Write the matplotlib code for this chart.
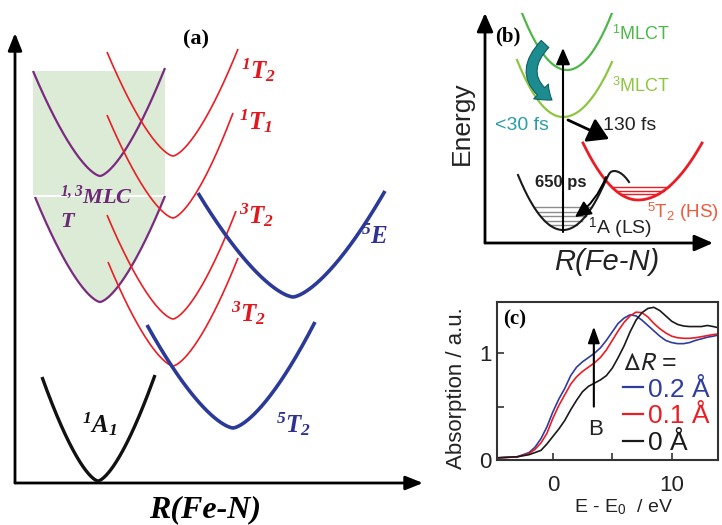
import numpy as np
import matplotlib
matplotlib.use("Agg")
import matplotlib.pyplot as plt
from matplotlib.patches import FancyArrowPatch
from matplotlib.font_manager import FontProperties

plt.rcParams['mathtext.fontset'] = 'custom'
plt.rcParams['mathtext.rm'] = 'Liberation Serif:bold:italic'
plt.rcParams['mathtext.it'] = 'Liberation Serif:bold:italic'
plt.rcParams['mathtext.bf'] = 'Liberation Serif:bold'
plt.rcParams['mathtext.sf'] = 'Liberation Sans'
plt.rcParams['font.family'] = ['Liberation Sans', 'DejaVu Sans']

# ---------------- panel (a): potential curves (vertex and both end points)
a_vertex_R = [83, 218, 278, 158, 158, 158, 158, 85, 85]
a_vertex_E = [2, 55, 186, 117, 164, 265, 327, 181, 307]
a_left_R = [27, 132, 183, 93, 92, 92, 92, 20, 18]
a_left_E = [106, 158, 290, 221, 268, 368, 431, 286, 412]
a_right_R = [140, 300, 370, 223, 221, 218, 223, 150, 150]
a_right_E = [108, 161, 292, 225, 272, 370, 434, 287, 415]
a_kind = ['gs', 'hs', 'hs', 'lf', 'lf', 'lf', 'lf', 'ct', 'ct']

a_labels = [r'$^{1}T_{2}$', r'$^{1}T_{1}$', r'$^{3}T_{2}$', r'$^{5}E$',
            r'$^{3}T_{2}$', r'$^{5}T_{2}$', r'$^{1}A_{1}$']
a_label_R = [226, 224, 224, 346, 216, 261, 67]
a_label_E = [413, 362, 268, 246, 170, 59, 59]
a_label_kind = ['lf', 'lf', 'lf', 'hs', 'lf', 'hs', 'gs']

# ---------------- panel (b): schematic potentials
b_vertex_R = [82, 78, 153]
b_vertex_E = [173, 126, 43]
b_left_R = [37, 32, 98]
b_left_E = [230, 183, 100]
b_right_R = [127, 127, 217]
b_right_E = [230, 181, 100]
b_colors = ['#4db848', '#8dc63f', '#ec1c24']
gs_vertex = (78, 13)
gs_left = (33, 68)
gs_crest = (129, 72)
gs_end = (144, 61)
gs_levels = [36, 31.5, 27, 22.5, 18]
hs_levels = [56, 52.5, 49]

# ---------------- panel (c): XANES spectra
c_energy = [-4.7, -3, -2, -1.5, -1, -0.5, 0, 0.5, 1, 1.5, 2, 2.5, 3, 3.5, 4,
            4.5, 5, 5.5, 6, 6.5, 7, 7.5, 8, 8.5, 9, 9.5, 10, 10.5, 11, 11.5,
            12, 12.5, 13, 13.5, 13.9]
c_abs_02 = [0.02, 0.03, 0.07, 0.12, 0.20, 0.31, 0.45, 0.57, 0.67, 0.79, 0.87,
            0.92, 0.96, 1.00, 1.05, 1.12, 1.20, 1.28, 1.33, 1.36, 1.35, 1.31,
            1.26, 1.21, 1.16, 1.12, 1.10, 1.09, 1.09, 1.10, 1.12, 1.135, 1.15,
            1.16, 1.17]
c_abs_01 = [0.02, 0.03, 0.06, 0.10, 0.16, 0.25, 0.39, 0.51, 0.61, 0.71, 0.78,
            0.83, 0.87, 0.91, 0.96, 1.03, 1.12, 1.21, 1.29, 1.35, 1.385, 1.38,
            1.34, 1.28, 1.23, 1.19, 1.16, 1.145, 1.14, 1.14, 1.145, 1.155,
            1.165, 1.175, 1.18]
c_abs_00 = [0.02, 0.03, 0.05, 0.07, 0.09, 0.15, 0.22, 0.29, 0.37, 0.47, 0.56,
            0.64, 0.69, 0.72, 0.75, 0.79, 0.86, 0.96, 1.07, 1.20, 1.31, 1.38,
            1.42, 1.43, 1.40, 1.35, 1.30, 1.27, 1.255, 1.25, 1.25, 1.25, 1.26,
            1.25, 1.24]
c_labels = ['0.2 Å', '0.1 Å', '0 Å']
c_colors = ['#2e3d9f', '#ec1c24', '#1a1a1a']

W, H = 722, 525
fig = plt.figure(figsize=(W / 100, H / 100), dpi=100)


def well(Rv, Ev, Rl, El, Rr, Er, p, n=200):
    R = np.linspace(Rl, Rr, n)
    E = np.where(R < Rv,
                 Ev + (El - Ev) * (np.abs(R - Rv) / abs(Rl - Rv)) ** p,
                 Ev + (Er - Ev) * (np.abs(R - Rv) / abs(Rr - Rv)) ** p)
    return R, E


# ======================= panel (a)
ax_a = fig.add_axes([15 / W, 1 - 483 / H, 408 / W, 450 / H])
ax_a.set_xlim(0, 408)
ax_a.set_ylim(0, 450)
ax_a.axis('off')

green = '#dcebd5'
styles = {'gs': ('#111111', 2.4), 'hs': ('#2b3a98', 2.6),
          'lf': ('#ec1c24', 1.2), 'ct': ('#7a2a80', 1.6)}
label_colors = {'gs': '#111111', 'hs': '#2e3192', 'lf': '#e3161d', 'ct': '#6c2776'}

# shaded charge-transfer manifold
ax_a.fill_between([a_left_R[8], a_right_R[8]], a_right_E[7] + 1.5, a_left_E[8],
                  color=green, lw=0, zorder=1)
Rl, El = well(a_vertex_R[7], a_vertex_E[7], a_left_R[7], a_left_E[7],
              a_right_R[7], a_right_E[7], 1.5)
ax_a.fill_between(Rl, El, a_right_E[7] - 0.5, where=El < a_right_E[7],
                  color=green, lw=0, zorder=1)

order = {'ct': 2, 'lf': 3, 'hs': 4, 'gs': 5}
for i in range(len(a_vertex_R)):
    R, E = well(a_vertex_R[i], a_vertex_E[i], a_left_R[i], a_left_E[i],
                a_right_R[i], a_right_E[i], 1.5)
    c, lw = styles[a_kind[i]]
    ax_a.plot(R, E, color=c, lw=lw, zorder=order[a_kind[i]],
              solid_capstyle='butt')

for txt, r, e, k in zip(a_labels, a_label_R, a_label_E, a_label_kind):
    ax_a.text(r, e, txt, color=label_colors[k], fontsize=18, ha='left',
              va='center', family='Liberation Serif', weight='bold',
              style='italic', zorder=6)

ax_a.text(45, 286, r'$^{1,3}$MLC', color=label_colors['ct'], fontsize=16,
          family='Liberation Serif', weight='bold', style='italic',
          ha='left', va='center', zorder=6)
ax_a.text(45, 261, 'T', color=label_colors['ct'], fontsize=16,
          family='Liberation Serif', weight='bold', style='italic',
          ha='left', va='center', zorder=6)
ax_a.text(181, 444, '(a)', fontsize=16, family='Liberation Serif',
          weight='bold', ha='center', va='center')
ax_a.text(190, -27, 'R(Fe-N)', fontsize=23, family='Liberation Serif',
          weight='bold', style='italic', ha='center', va='center')

arr = dict(arrowstyle='-|>,head_length=0.75,head_width=0.3', lw=2.0,
           color='black', shrinkA=0, shrinkB=0, mutation_scale=14)
ax_a.annotate('', xy=(0, 1), xytext=(0, 0), xycoords='axes fraction',
              arrowprops=arr)
ax_a.annotate('', xy=(1, 0), xytext=(0, 0), xycoords='axes fraction',
              arrowprops=arr)

# ======================= panel (b)
ax_b = fig.add_axes([485 / W, 1 - 243 / H, 228 / W, 230 / H])
ax_b.set_xlim(0, 228)
ax_b.set_ylim(0, 230)
ax_b.axis('off')

for i in range(3):
    R, E = well(b_vertex_R[i], b_vertex_E[i], b_left_R[i], b_left_E[i],
                b_right_R[i], b_right_E[i], 2.0)
    ax_b.plot(R, E, color=b_colors[i], lw=1.6 if i < 2 else 2.0, zorder=3)

# low-spin well running over the barrier into the high-spin well
Rg = np.linspace(gs_left[0], gs_end[0], 300)
kw = (gs_left[1] - gs_vertex[1]) / (gs_left[0] - gs_vertex[0]) ** 2
kb = (gs_crest[1] - gs_end[1]) / (gs_end[0] - gs_crest[0]) ** 2
E_well = gs_vertex[1] + kw * (Rg - gs_vertex[0]) ** 2
E_bar = np.where(Rg > 100, gs_crest[1] - kb * (Rg - gs_crest[0]) ** 2, 1e4)
s = 2.5
Eg = -s * np.logaddexp(-E_well / s, -E_bar / s)
ax_b.plot(Rg, Eg, color='#1a1a1a', lw=1.5, zorder=3)

for lv in gs_levels:
    half = np.sqrt((lv - gs_vertex[1]) / kw)
    ax_b.plot([gs_vertex[0] - half, gs_vertex[0] + half], [lv, lv],
              color='#8c8c8c', lw=1.0, zorder=2)
kl = (b_left_E[2] - b_vertex_E[2]) / (b_left_R[2] - b_vertex_R[2]) ** 2
kr = (b_right_E[2] - b_vertex_E[2]) / (b_right_R[2] - b_vertex_R[2]) ** 2
for lv in hs_levels:
    ax_b.plot([b_vertex_R[2] - np.sqrt((lv - b_vertex_E[2]) / kl),
               b_vertex_R[2] + np.sqrt((lv - b_vertex_E[2]) / kr)], [lv, lv],
              color='#ec1c24', lw=1.0, zorder=2)

barr = dict(arrowstyle='-|>,head_length=0.8,head_width=0.35', lw=2.0,
            color='black', shrinkA=0, shrinkB=0, mutation_scale=14)
ax_b.annotate('', xy=(0, 1), xytext=(0, 0), xycoords='axes fraction',
              arrowprops=barr)
ax_b.annotate('', xy=(1, 0), xytext=(0, 0), xycoords='axes fraction',
              arrowprops=barr)

# excitation
ax_b.add_patch(FancyArrowPatch((78, 11), (78, 195), arrowstyle='-|>,head_length=0.7,head_width=0.3',
                               mutation_scale=14, lw=1.5, color='black',
                               shrinkA=0, shrinkB=0, zorder=5))
# ISC 1MLCT -> 3MLCT
ax_b.add_patch(FancyArrowPatch((60, 199), (67, 143),
                               connectionstyle='arc3,rad=0.6',
                               arrowstyle='simple,head_width=1.5,head_length=1.0,tail_width=0.75',
                               mutation_scale=10, fc='#1c8c90', ec='#0f5f63',
                               lw=0.8, shrinkA=0, shrinkB=0, zorder=6))
# 3MLCT -> 5T2
ax_b.add_patch(FancyArrowPatch((83, 123), (124, 104),
                               arrowstyle='-|>,head_length=0.9,head_width=0.55',
                               mutation_scale=14, lw=2.0, color='black',
                               shrinkA=0, shrinkB=0, zorder=6))
# HS -> LS relaxation
ax_b.add_patch(FancyArrowPatch((121, 66), (90, 26),
                               connectionstyle='arc3,rad=-0.15',
                               arrowstyle='-|>,head_length=0.8,head_width=0.4',
                               mutation_scale=12, lw=1.4, color='black',
                               shrinkA=0, shrinkB=0, zorder=6))

tc = '#222222'
ax_b.text(23, 207, '(b)', fontsize=15, family='Liberation Serif',
          weight='bold', ha='center', va='center')
ax_b.text(127, 209, r'$^{\mathsf{1}}$MLCT', color='#4db848', fontsize=13,
          ha='left', va='center')
ax_b.text(127, 157, r'$^{\mathsf{3}}$MLCT', color='#8dc63f', fontsize=13,
          ha='left', va='center')
ax_b.text(37, 118, '<30 fs', color='#2a9ea6', fontsize=14, ha='center',
          va='center')
ax_b.text(118, 118, '130 fs', color=tc, fontsize=14, ha='left', va='center')
ax_b.text(76, 61, '650 ps', color=tc, fontsize=12, weight='bold',
          ha='center', va='center', zorder=4)
ax_b.text(103, 15, r'$^{\mathsf{1}}$A (LS)', color=tc, fontsize=14,
          ha='left', va='center')
ax_b.text(162, 31, r'$^{\mathsf{5}}$T$_{\mathsf{2}}$ (HS)', color='#ef5a3a',
          fontsize=13.5, ha='left', va='center')

fig.text(462 / W, 1 - 123 / H, 'Energy', rotation=90, fontsize=19,
         color=tc, ha='center', va='center')
fig.text(607 / W, 1 - 262 / H, 'R(Fe-N)', style='italic', fontsize=21,
         color=tc, ha='center', va='center')

# ======================= panel (c)
ax_c = fig.add_axes([497 / W, 1 - 460 / H, 221 / W, 158 / H])
for y, c, lab in zip([c_abs_02, c_abs_01, c_abs_00], c_colors, c_labels):
    ax_c.plot(c_energy, y, color=c, lw=1.2, label=lab)
ax_c.set_xlim(-4.7, 13.9)
ax_c.set_ylim(0, 1.48)
ax_c.set_xticks([0, 10])
ax_c.set_xticks([5], minor=True)
ax_c.set_yticks([0, 1])
ax_c.set_yticks([0.5], minor=True)
ax_c.tick_params(which='both', direction='in', length=5, width=1.2,
                 color='#333333', labelsize=16, labelcolor=tc)
ax_c.tick_params(axis='x', pad=11)
ax_c.tick_params(axis='y', pad=4)
for sp in ax_c.spines.values():
    sp.set_color('#333333')
    sp.set_linewidth(1.5)

ax_c.annotate('', xy=(3.45, 1.25), xytext=(3.45, 0.5),
              arrowprops=dict(arrowstyle='-|>,head_length=0.7,head_width=0.25',
                              lw=1.5, color='black', shrinkA=0, shrinkB=0,
                              mutation_scale=14))
ax_c.text(3.6, 0.29, 'B', fontsize=16, color=tc, ha='center', va='center')
ax_c.text(-3.2, 1.32, '(c)', fontsize=15, family='Liberation Serif',
          weight='bold', ha='center', va='center')

leg = ax_c.legend(loc='upper left', bbox_to_anchor=(0.57, 0.69),
                  title=r'$\Delta R$ =', frameon=False, fontsize=19,
                  handlelength=0.75, handletextpad=0.2, labelspacing=0.1,
                  borderpad=0, borderaxespad=0, labelcolor='linecolor',
                  alignment='left',
                  title_fontproperties=FontProperties(
                      family='Liberation Sans', size=18,
                      math_fontfamily='stixsans'))
leg.get_title().set_color(tc)
for ln in leg.get_lines():
    ln.set_linewidth(1.6)

fig.text(457 / W, 1 - 388 / H, 'Absorption / a.u.', rotation=90, fontsize=16,
         color=tc, ha='center', va='center')
fig.text(623 / W, 1 - 507 / H, r'E - E$_{\mathsf{0}}$  / eV', fontsize=14,
         color=tc, ha='center', va='center')

fig.savefig('out.png', dpi=100)
